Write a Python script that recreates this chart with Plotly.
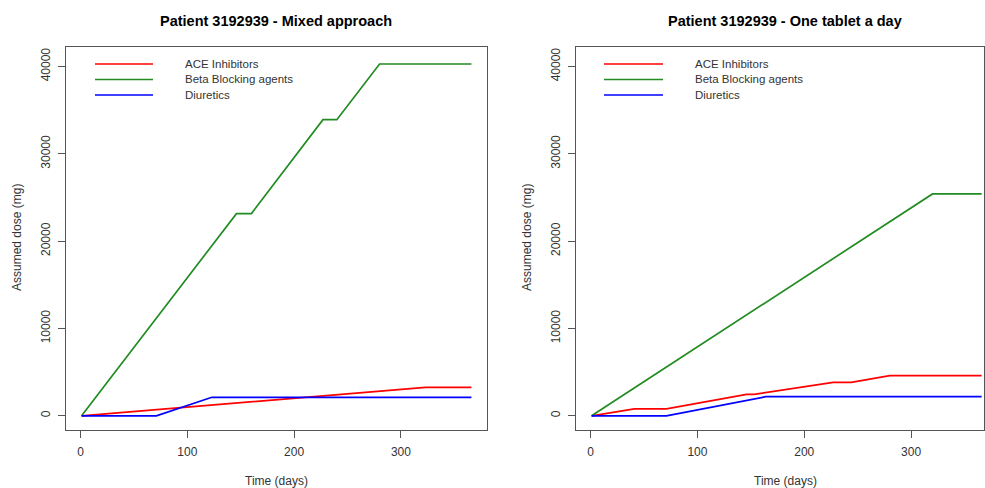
import plotly.graph_objects as go

# Cumulative assumed dose (mg) by day, two dosing assumptions
drug_names = ["ACE Inhibitors", "Beta Blocking agents", "Diuretics"]
drug_colors = ["#FF0000", "#228B22", "#0000FF"]

# Mixed approach
mixed_ace_days = [1, 323, 366]
mixed_ace_dose = [0, 3260, 3260]
mixed_beta_days = [1, 146, 160, 227, 240, 280, 366]
mixed_beta_dose = [0, 23150, 23150, 33900, 33900, 40280, 40280]
mixed_diur_days = [1, 71, 123, 366]
mixed_diur_dose = [0, 0, 2120, 2120]

# One tablet a day
daily_ace_days = [1, 41, 71, 146, 153, 227, 244, 280, 366]
daily_ace_dose = [0, 800, 800, 2450, 2450, 3830, 3830, 4590, 4590]
daily_beta_days = [1, 320, 366]
daily_beta_dose = [0, 25400, 25400]
daily_diur_days = [1, 71, 164, 366]
daily_diur_dose = [0, 0, 2190, 2190]

x_ticks = [0, 100, 200, 300]
y_ticks = [0, 10000, 20000, 30000, 40000]

titles = ["Patient 3192939 - Mixed approach", "Patient 3192939 - One tablet a day"]

W, H = 985, 488
FONT = "Liberation Sans, Arial, sans-serif"
BOX = "#555555"
TXT = "#333333"

fig = go.Figure()

panels = [
    ([(mixed_ace_days, mixed_ace_dose), (mixed_beta_days, mixed_beta_dose),
      (mixed_diur_days, mixed_diur_dose)], "x", "y"),
    ([(daily_ace_days, daily_ace_dose), (daily_beta_days, daily_beta_dose),
      (daily_diur_days, daily_diur_dose)], "x2", "y2"),
]
for series, xa, ya in panels:
    for (d, v), name, col in zip(series, drug_names, drug_colors):
        fig.add_trace(go.Scatter(x=d, y=v, mode="lines", name=name, xaxis=xa, yaxis=ya,
                                 line=dict(color=col, width=1.7), showlegend=False,
                                 hoverinfo="x+y"))


def px_x(p):
    return p / W


def px_y(p):
    return 1 - p / H


# plot boxes in pixels: left 66..487, right 576..984, top 47, bottom 430
dom_left = [px_x(66), px_x(487)]
dom_right = [px_x(576), px_x(984)]
dom_y = [px_y(430), px_y(47)]

axis_common = dict(showgrid=False, zeroline=False, showline=True, mirror=True,
                   linecolor=BOX, linewidth=1, ticks="outside", ticklen=7,
                   tickcolor=BOX, tickwidth=1,
                   tickfont=dict(family=FONT, size=12, color=TXT))
x_common = dict(tickvals=x_ticks, ticklabelstandoff=4, **axis_common)
y_common = dict(domain=dom_y, range=[-1624, 42224], tickvals=y_ticks, tickformat="d",
                tickangle=-90, ticklabelstandoff=3, **axis_common)

fig.update_layout(
    width=W, height=H,
    margin=dict(l=0, r=0, t=0, b=0),
    paper_bgcolor="white", plot_bgcolor="white",
    xaxis=dict(domain=dom_left, range=[-13.6, 380.6], anchor="y", **x_common),
    yaxis=dict(anchor="x", **y_common),
    xaxis2=dict(domain=dom_right, range=[-13.6, 368.2], anchor="y2", **x_common),
    yaxis2=dict(anchor="x2", **y_common),
)

annotations = []
shapes = []
for i, x0 in enumerate([66, 576]):
    cx = 276 if i == 0 else 785
    annotations.append(dict(text="<b>" + titles[i] + "</b>", x=px_x(cx), y=px_y(21),
                            xref="paper", yref="paper", showarrow=False,
                            xanchor="center", yanchor="middle",
                            font=dict(family=FONT, size=14.5, color="#000000")))
    annotations.append(dict(text="Time (days)", x=px_x(cx), y=px_y(481),
                            xref="paper", yref="paper", showarrow=False,
                            xanchor="center", yanchor="middle",
                            font=dict(family=FONT, size=12, color=TXT)))
    annotations.append(dict(text="Assumed dose (mg)", x=px_x(x0 - 49), y=px_y(238),
                            xref="paper", yref="paper", showarrow=False, textangle=-90,
                            xanchor="center", yanchor="middle",
                            font=dict(family=FONT, size=12, color=TXT)))
    # legend keys
    lx0, lx1, tx = (95, 153, 183) if i == 0 else (604, 663, 693)
    for j, (name, col) in enumerate(zip(drug_names, drug_colors)):
        yy = [64, 79.5, 95][j]
        shapes.append(dict(type="line", xref="paper", yref="paper",
                           x0=px_x(lx0), x1=px_x(lx1), y0=px_y(yy), y1=px_y(yy),
                           line=dict(color=col, width=1.7)))
        annotations.append(dict(text=name, x=px_x(tx), y=px_y(yy),
                                xref="paper", yref="paper", showarrow=False,
                                xanchor="left", yanchor="middle",
                                font=dict(family=FONT, size=11.5, color=TXT)))

fig.update_layout(annotations=annotations, shapes=shapes)

fig.write_html("out.html")
